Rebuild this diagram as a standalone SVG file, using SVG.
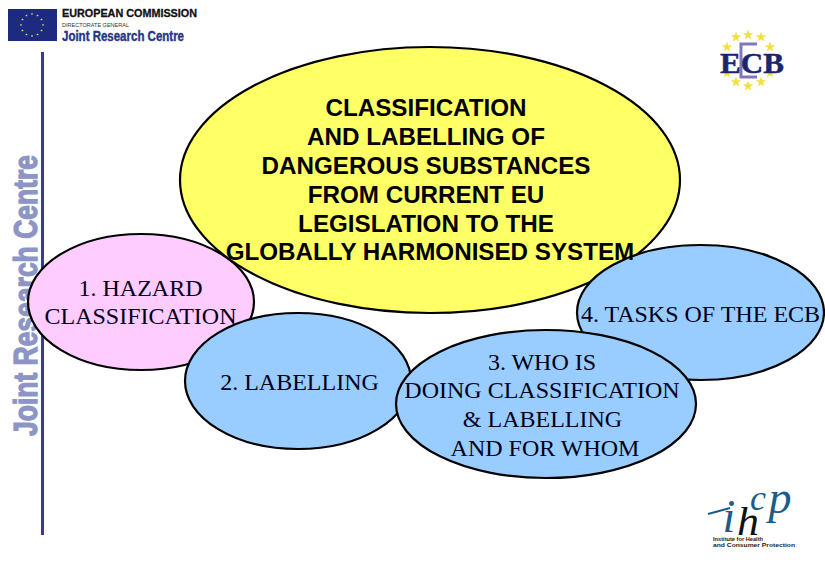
<svg xmlns="http://www.w3.org/2000/svg" width="825" height="570" viewBox="0 0 825 570">
<style>
.e{stroke:#000;stroke-width:2.2}
.s{font-family:"Liberation Sans",Arial,sans-serif;font-weight:bold;font-size:24.2px;fill:#000;text-anchor:middle}
.t{font-family:"Liberation Serif","Times New Roman",serif;font-size:24px;fill:#00001a;text-anchor:middle}
.l{font-family:"Liberation Sans",Arial,sans-serif;font-weight:bold}
.i{font-family:"Liberation Serif","Times New Roman",serif;font-style:italic;text-anchor:middle}
</style>
<defs>
<polygon id="st" points="0,-5.5 1.3,-1.8 5.2,-1.7 2.1,0.7 3.2,4.4 0,2.2 -3.2,4.4 -2.1,0.7 -5.2,-1.7 -1.3,-1.8"/>
</defs>
<rect width="825" height="570" fill="#fff"/>
<g id="jrc-logo">
<rect x="8" y="9" width="49" height="32" fill="#1c2a80"/>
<g fill="#e8dc60" transform="translate(32 25) scale(.25)">
<use href="#st" x="0" y="-44"/><use href="#st" x="22" y="-38"/><use href="#st" x="38" y="-22"/><use href="#st" x="44" y="0"/><use href="#st" x="38" y="22"/><use href="#st" x="22" y="38"/><use href="#st" x="0" y="44"/><use href="#st" x="-22" y="38"/><use href="#st" x="-38" y="22"/><use href="#st" x="-44" y="0"/><use href="#st" x="-38" y="-22"/><use href="#st" x="-22" y="-38"/>
</g>
<text class="l" x="62" y="17" font-size="11" fill="#111" stroke="#111" stroke-width=".3" textLength="135" lengthAdjust="spacingAndGlyphs">EUROPEAN COMMISSION</text>
<text x="62" y="27" font-family="Liberation Sans,sans-serif" font-size="5.5" fill="#333" textLength="67" lengthAdjust="spacingAndGlyphs">DIRECTORATE GENERAL</text>
<text class="l" x="62" y="41" font-size="14" fill="#2a3488" stroke="#2a3488" stroke-width=".4" textLength="122" lengthAdjust="spacingAndGlyphs">Joint Research Centre</text>
</g>
<g id="side-title">
<text class="l" transform="translate(37 436) rotate(-90)" font-size="33" fill="#8c95c6" stroke="#8c95c6" stroke-width="1.3" textLength="281" lengthAdjust="spacingAndGlyphs">Joint Research Centre</text>
<rect x="41" y="52" width="3" height="483" fill="#3c3c8c"/>
</g>
<g id="ecb-logo">
<g fill="#f0e040">
<use href="#st" x="748" y="35"/><use href="#st" x="761" y="37"/><use href="#st" x="770" y="47"/><use href="#st" x="736" y="37"/><use href="#st" x="727" y="47"/><use href="#st" x="770" y="73"/><use href="#st" x="761" y="82"/><use href="#st" x="748" y="86"/><use href="#st" x="736" y="82"/><use href="#st" x="727" y="73"/>
</g>
<path d="M757 44H741V77H757" fill="none" stroke="#8078b8" stroke-width="3"/>
<text x="752" y="73" font-family="Liberation Serif,serif" font-weight="bold" font-size="30" fill="#1c2470" stroke="#1c2470" stroke-width=".5" text-anchor="middle" textLength="64" lengthAdjust="spacingAndGlyphs">ECB</text>
</g>
<g id="ihcp-logo">
<path d="M708 514 L730 508" stroke="#1c5c88" stroke-width="2" fill="none"/>
<text class="i" x="729" y="532" font-size="46" fill="#1c5c88">i</text>
<text class="i" x="748" y="535" font-size="40" fill="#111" textLength="22" lengthAdjust="spacingAndGlyphs">h</text>
<text class="i" x="758" y="510" font-size="36" fill="#1c5c88">c</text>
<text class="i" x="780" y="513" font-size="46" fill="#1c5c88">p</text>
<text x="713" y="541" font-family="Liberation Sans,sans-serif" font-weight="bold" font-size="5.5" fill="#222" textLength="50" lengthAdjust="spacingAndGlyphs">Institute for Health</text>
<text x="713" y="547" font-family="Liberation Sans,sans-serif" font-weight="bold" font-size="5.5" fill="#222" textLength="82" lengthAdjust="spacingAndGlyphs">and Consumer Protection</text>
</g>
<g id="node-1"><ellipse class="e" cx="141" cy="302" rx="113" ry="68" fill="#ffccff"/></g>
<g id="node-main"><ellipse class="e" cx="430" cy="180" rx="250" ry="133" fill="#ffff66"/></g>
<g id="node-2"><ellipse class="e" cx="298" cy="381" rx="113" ry="68" fill="#99ccff"/></g>
<g id="node-4"><ellipse class="e" cx="700.5" cy="312.5" rx="123.5" ry="67.5" fill="#99ccff"/></g>
<g id="node-3"><ellipse class="e" cx="546" cy="404" rx="150" ry="74" fill="#99ccff"/></g>
<g id="labels">
<text class="s" x="426" y="116">CLASSIFICATION</text>
<text class="s" x="426" y="145">AND LABELLING OF</text>
<text class="s" x="426" y="174">DANGEROUS SUBSTANCES</text>
<text class="s" x="426" y="203">FROM CURRENT EU</text>
<text class="s" x="426" y="232">LEGISLATION TO THE</text>
<text class="s" x="430" y="260">GLOBALLY HARMONISED SYSTEM</text>
<text class="t" x="140.500" y="296">1. HAZARD</text>
<text class="t" x="140.500" y="324">CLASSIFICATION</text>
<text class="t" x="299.500" y="390">2. LABELLING</text>
<text class="t" x="700.500" y="322">4. TASKS OF THE ECB</text>
<text class="t" x="542" y="370">3. WHO IS</text>
<text class="t" x="542" y="398">DOING CLASSIFICATION</text>
<text class="t" x="542.500" y="427">&amp; LABELLING</text>
<text class="t" x="545" y="456">AND FOR WHOM</text>
</g>
</svg>
